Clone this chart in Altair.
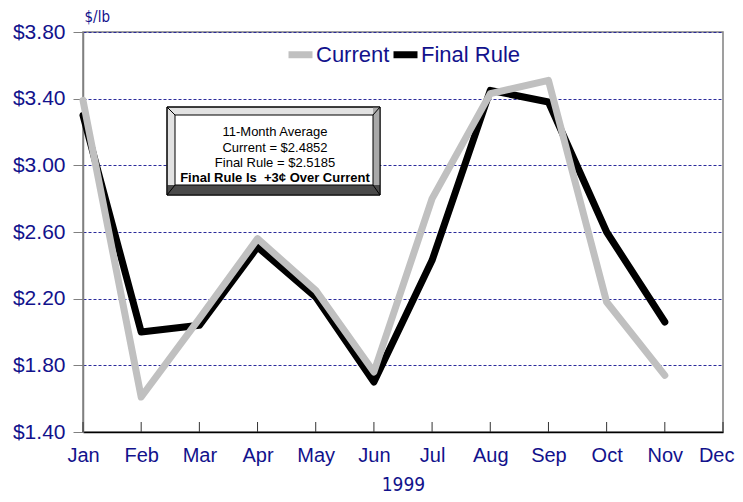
import altair as alt
import pandas as pd

months = ["Jan", "Feb", "Mar", "Apr", "May", "Jun", "Jul", "Aug", "Sep", "Oct", "Nov", "Dec"]
data_months = months[:11]
current = [3.39, 1.61, 2.08, 2.56, 2.25, 1.76, 2.80, 3.43, 3.51, 2.18, 1.74]
final_rule = [3.30, 2.00, 2.04, 2.51, 2.21, 1.70, 2.43, 3.45, 3.38, 2.60, 2.06]
series_names = ["Current", "Final Rule"]
series_colors = ["#c0c0c0", "#000000"]
y_ticks = [1.4, 1.8, 2.2, 2.6, 3.0, 3.4, 3.8]
box_lines = ["11-Month Average", "Current = $2.4852", "Final Rule = $2.5185"]
box_bold = "Final Rule Is \u00a0+3¢ Over Current"

NAVY = "#12128c"
FONT = "Liberation Sans, Arial, sans-serif"
NARROW = "DejaVu Sans Condensed, Liberation Sans Narrow, sans-serif"

df = pd.DataFrame({
    "Month": data_months * 2,
    "Price": current + final_rule,
    "Series": [series_names[0]] * len(current) + [series_names[1]] * len(final_rule),
})
tick_df = pd.DataFrame({"Month": months})
one = pd.DataFrame({"k": [0]})

is_last = alt.datum.value == months[-1]
x_enc = alt.X(
    "Month:O", sort=months,
    scale=alt.Scale(type="point", domain=months, padding=0),
    axis=alt.Axis(
        title="1999", labelAngle=0, ticks=False, grid=False,
        domainColor="#000000", domainWidth=1.5,
        labelFontSize=20, labelColor=NAVY, labelFont=FONT, labelPadding=13,
        labelAlign=alt.condition(is_last, alt.value("right"), alt.value("center")),
        labelOffset=alt.condition(is_last, alt.value(11), alt.value(0)),
        titleFontSize=19, titleFont=NARROW, titleColor=NAVY,
        titleFontWeight="normal", titlePadding=10,
    ),
)
y_enc = alt.Y(
    "Price:Q",
    scale=alt.Scale(domain=[1.4, 3.8], nice=False, zero=False),
    axis=alt.Axis(
        values=y_ticks, format="$.2f", tickSize=10, tickColor="#808080",
        domainColor="#808080", domainWidth=1.5,
        grid=True, gridColor="#2a2a9a", gridDash=[3, 2], gridWidth=1,
        labelFontSize=21, labelColor=NAVY, labelFont=FONT, labelPadding=8,
        title="$/lb", titleAngle=0, titleAlign="left", titleBaseline="middle",
        titleX=1, titleY=-16, titleFontSize=15, titleFont=NARROW,
        titleColor=NAVY, titleFontWeight="normal",
    ),
)
legend = alt.Legend(
    orient="none", legendX=202, legendY=7, direction="horizontal", title=None,
    symbolType="stroke", symbolStrokeWidth=7, symbolSize=576,
    labelFontSize=22, labelColor=NAVY, labelFont=FONT,
    columnPadding=-14, labelOffset=0,
)
color_enc = alt.Color(
    "Series:N",
    scale=alt.Scale(domain=series_names, range=series_colors),
    legend=legend,
)

base = alt.Chart(df).mark_line(strokeWidth=7, strokeCap="round", strokeJoin="round")
black_line = base.transform_filter(alt.datum.Series == series_names[1]).encode(x=x_enc, y=y_enc, color=color_enc)
gray_line = base.transform_filter(alt.datum.Series == series_names[0]).encode(x=x_enc, y=y_enc, color=color_enc)

ticks = alt.Chart(tick_df).mark_rule(color="#333333", strokeWidth=1).encode(
    x=alt.X("Month:O", sort=months), y=alt.value(390), y2=alt.value(400)
)

def rect(x, x2, y, y2, fill, stroke=None):
    kw = {"fill": fill}
    if stroke:
        kw.update(stroke=stroke, strokeWidth=1)
    return alt.Chart(one).mark_rect(**kw).encode(
        x=alt.value(x), x2=alt.value(x2), y=alt.value(y), y2=alt.value(y2)
    )

def diag(x, y, x2, y2):
    return alt.Chart(one).mark_rule(color="#000000", strokeWidth=1).encode(
        x=alt.value(x), y=alt.value(y), x2=alt.value(x2), y2=alt.value(y2)
    )

box = [
    rect(84, 297, 75, 163, "#e2e2e2", "#000000"),
    rect(290, 297, 75, 163, "#a9a9a9"),
    rect(84, 297, 153, 163, "#4a4a4a"),
    rect(84, 297, 75, 163, "transparent", "#000000"),
    rect(92, 290, 83, 153, "#ffffff", "#000000"),
    diag(84, 75, 92, 83), diag(297, 75, 290, 83),
    diag(84, 163, 92, 153), diag(297, 163, 290, 153),
]

texts = []
for i, t in enumerate(box_lines):
    texts.append(alt.Chart(one).mark_text(
        text=t, align="center", baseline="middle", fontSize=13, font=FONT, color="#000000"
    ).encode(x=alt.value(192), y=alt.value(100 + 15.5 * i)))
texts.append(alt.Chart(one).mark_text(
    text=box_bold, align="center", baseline="middle", fontSize=13, font=FONT,
    fontWeight="bold", color="#000000"
).encode(x=alt.value(192), y=alt.value(146)))

chart = alt.layer(black_line, gray_line, ticks, *box, *texts).properties(
    width=640, height=400,
    autosize=alt.AutoSizeParams(type="none"),
    padding={"left": 75, "top": 24, "right": 12, "bottom": 62},
).configure_view(stroke="#808080", strokeWidth=1.5)

chart.save("out.html", embed_options={"renderer": "svg", "actions": False})
